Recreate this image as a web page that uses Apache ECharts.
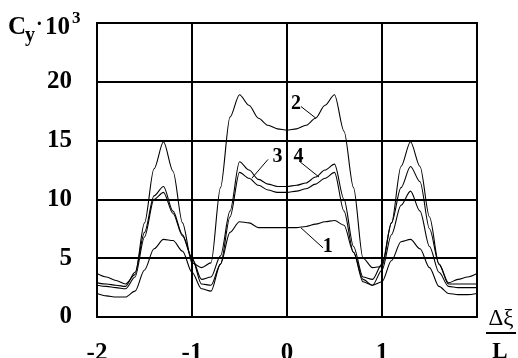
<!DOCTYPE html>
<html>
<head>
<meta charset="utf-8">
<script src="https://cdn.jsdelivr.net/npm/echarts@6/dist/echarts.min.js"></script>
<style>
html,body{margin:0;padding:0;background:#fff;}
#c{width:518px;height:358px;}
</style>
</head>
<body>
<div id="c"></div>
<script>
const xs = [-2.0,-1.9,-1.8,-1.7,-1.6,-1.5,-1.4,-1.3,-1.2,-1.1,-1.0,-0.9,-0.8,-0.7,-0.6,-0.5,-0.4,-0.3,-0.2,-0.1,0,
            0.1,0.2,0.3,0.4,0.5,0.6,0.7,0.8,0.9,1.0,1.1,1.2,1.3,1.4,1.5,1.6,1.7,1.8,1.9,2.0];
const curve1 = [2.0,1.8,1.7,1.7,2.2,4.0,5.8,6.6,6.5,5.6,3.8,2.4,2.2,4.5,7.2,8.1,8.0,7.6,7.6,7.6,7.6,
                7.6,7.7,7.9,8.1,8.2,7.8,5.5,3.2,2.7,3.0,4.8,6.4,6.6,5.8,4.2,2.6,2.0,1.9,1.9,2.0];
const curve2 = [3.7,3.4,3.1,2.8,3.6,8.0,12.6,14.9,12.4,8.0,4.6,4.2,4.6,11.0,17.0,18.9,18.0,16.9,16.3,16.0,15.9,
                16.0,16.3,16.9,18.0,18.9,15.8,11.0,5.0,4.2,4.3,8.0,12.8,14.9,12.8,8.5,4.5,2.9,3.2,3.4,3.7];
const curve3 = [2.7,2.6,2.5,2.4,3.4,6.8,10.0,10.6,8.8,6.9,5.0,2.8,2.7,4.5,8.5,12.3,11.8,11.2,10.8,10.6,10.6,
                10.7,10.9,11.3,11.8,12.3,9.0,5.5,3.0,2.7,4.0,7.0,9.5,10.7,9.0,6.0,3.8,2.6,2.5,2.5,2.5];
const curve4 = [2.9,2.8,2.7,2.6,3.8,7.2,10.3,11.1,9.0,7.0,5.0,3.2,3.4,5.2,9.0,13.2,12.5,11.7,11.3,11.1,11.1,
                11.2,11.4,11.9,12.5,13.0,10.0,6.0,3.4,3.2,4.5,8.0,11.0,12.8,11.5,7.5,4.5,2.8,2.8,2.8,2.8];
const xTicks = [-2,-1,0,1];
const yTicks = [0,5,10,15,20];
// curve labels: [text, labelX, labelY, leaderFromX, leaderFromY, leaderToX, leaderToY] in data units
const curveLabels = [
  ['2', 0.095, 18.14, 0.147, 17.9, 0.305, 16.9],
  ['3', -0.10, 13.6, -0.20, 13.4, -0.37, 11.8],
  ['4', 0.12, 13.6, 0.137, 13.2, 0.337, 11.9],
  ['1', 0.43, 5.96, 0.147, 7.58, 0.379, 5.88]
];

const serif = '"Liberation Serif", "Times New Roman", serif';
const chart = echarts.init(document.getElementById('c'), null, {renderer:'canvas'});
function mk(ys){ return xs.map((x,i)=>[x,ys[i]]); }
const lineStyle = {color:'#000', width:1.1};
function ser(ys){
  return {type:'line', data:mk(ys), showSymbol:false, smooth:0.3, smoothMonotone:'x',
          lineStyle:lineStyle, itemStyle:{color:'#000'}, silent:true, animation:false};
}
chart.setOption({
  animation:false,
  grid:{left:97, right:41, top:23, bottom:41, show:true, borderColor:'#000', borderWidth:2,
        containLabel:false, outerBoundsMode:'none'},
  xAxis:{type:'value', min:-2, max:2, interval:1,
    axisLine:{show:true, lineStyle:{color:'#000', width:2}},
    axisTick:{show:false},
    splitLine:{show:true, lineStyle:{color:'#000', width:2}},
    axisLabel:{margin:24, color:'#000', fontFamily:serif, fontWeight:'bold', fontSize:25,
      formatter:v=> xTicks.includes(v) ? String(v) : ''}
  },
  yAxis:{type:'value', min:0, max:25, interval:5,
    axisLine:{show:true, lineStyle:{color:'#000', width:2}},
    axisTick:{show:false},
    splitLine:{show:true, lineStyle:{color:'#000', width:2}},
    axisLabel:{margin:25, color:'#000', fontFamily:serif, fontWeight:'bold', fontSize:25,
      formatter:v=> yTicks.includes(v) ? String(v) : ''}
  },
  series:[ser(curve1), ser(curve2), ser(curve3), ser(curve4)]
});

const g = [];
curveLabels.forEach(l=>{
  const p = chart.convertToPixel({gridIndex:0}, [l[1], l[2]]);
  const a = chart.convertToPixel({gridIndex:0}, [l[3], l[4]]);
  const b = chart.convertToPixel({gridIndex:0}, [l[5], l[6]]);
  g.push({type:'text', x:p[0], y:p[1], style:{text:l[0], fill:'#000', font:'bold 20px '+serif, textAlign:'center', textVerticalAlign:'middle', backgroundColor:'#fff'}, z:100});
  g.push({type:'line', shape:{x1:a[0], y1:a[1], x2:b[0], y2:b[1]}, style:{stroke:'#000', lineWidth:1}, z:100});
});
// axis titles
g.push({type:'text', x:8, y:28, style:{text:'C', fill:'#000', font:'bold 25px '+serif, textVerticalAlign:'middle'}});
g.push({type:'text', x:25, y:36, style:{text:'y', fill:'#000', font:'bold 20px '+serif, textVerticalAlign:'middle'}});
g.push({type:'text', x:36, y:25, style:{text:'·', fill:'#000', font:'bold 20px '+serif, textVerticalAlign:'middle'}});
g.push({type:'text', x:45, y:28, style:{text:'10', fill:'#000', font:'bold 25px '+serif, textVerticalAlign:'middle'}});
g.push({type:'text', x:72, y:19, style:{text:'3', fill:'#000', font:'bold 17px '+serif, textVerticalAlign:'middle'}});
g.push({type:'text', x:501, y:319, style:{text:'Δξ', fill:'#000', font:'23px '+serif, textAlign:'center', textVerticalAlign:'middle'}});
g.push({type:'line', shape:{x1:486, y1:333, x2:516, y2:333}, style:{stroke:'#000', lineWidth:2}});
g.push({type:'text', x:500, y:352, style:{text:'L', fill:'#000', font:'bold 23px '+serif, textAlign:'center', textVerticalAlign:'middle'}});
chart.setOption({graphic:g});
</script>
</body>
</html>
